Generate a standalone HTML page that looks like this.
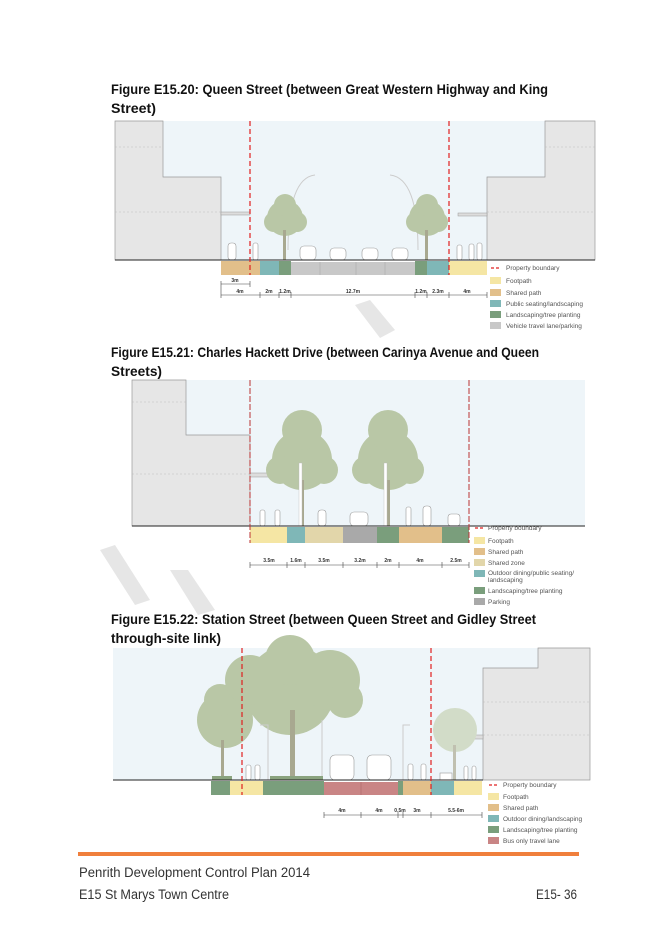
<!DOCTYPE html>
<html><head><meta charset="utf-8"><style>body{margin:0;background:#fff}svg{display:block}</style></head><body>
<svg width="656" height="928" viewBox="0 0 656 928" xmlns="http://www.w3.org/2000/svg" font-family="Liberation Sans, sans-serif">
<rect width="656" height="928" fill="#fff"/>
<!-- watermark -->
<g fill="#e6e6e6"><polygon points="355,305 370,300 395,330 380,338"/><polygon points="100,550 115,545 150,600 135,605"/><polygon points="170,570 188,570 215,610 198,615"/></g>
<!-- Titles -->
<g font-weight="bold" font-size="14" fill="#111">
<text x="111" y="94" textLength="437" lengthAdjust="spacingAndGlyphs">Figure E15.20: Queen Street (between Great Western Highway and King</text>
<text x="111" y="113" textLength="45" lengthAdjust="spacingAndGlyphs">Street)</text>
<text x="111" y="357" textLength="428" lengthAdjust="spacingAndGlyphs">Figure E15.21: Charles Hackett Drive (between Carinya Avenue and Queen</text>
<text x="111" y="376" textLength="51" lengthAdjust="spacingAndGlyphs">Streets)</text>
<text x="111" y="624" textLength="425" lengthAdjust="spacingAndGlyphs">Figure E15.22: Station Street (between Queen Street and Gidley Street</text>
<text x="111" y="643" textLength="110" lengthAdjust="spacingAndGlyphs">through-site link)</text>
</g>

<!-- FIG 1 -->
<rect x="115" y="121" width="480" height="139" fill="#eef5f9"/>
<g fill="#e6e6e6" stroke="#999" stroke-width="0.7">
<path d="M115 121 H163 V177 H221 V260 H115 Z"/>
<path d="M595 121 H545 V177 H487 V260 H595 Z"/>
</g>
<g stroke="#bbb" stroke-dasharray="2,2" stroke-width="0.6"><line x1="115" y1="147" x2="163" y2="147"/><line x1="115" y1="212" x2="221" y2="212"/><line x1="545" y1="147" x2="595" y2="147"/><line x1="487" y1="212" x2="595" y2="212"/></g>
<rect x="221" y="212" width="29" height="3" fill="#ddd" stroke="#999" stroke-width="0.5"/>
<rect x="458" y="213" width="29" height="3" fill="#ddd" stroke="#999" stroke-width="0.5"/>
<g fill="none" stroke="#ccc" stroke-width="1"><path d="M288 250 Q288 178 315 175"/><path d="M418 250 Q418 178 390 175"/></g>
<g fill="#b9c7a6"><circle cx="285" cy="218" r="18"/><circle cx="274" cy="222" r="10"/><circle cx="297" cy="222" r="10"/><circle cx="285" cy="205" r="11"/><circle cx="427" cy="218" r="18"/><circle cx="416" cy="222" r="10"/><circle cx="438" cy="222" r="10"/><circle cx="427" cy="205" r="11"/></g>
<rect x="283" y="230" width="3" height="30" fill="#a8a890"/><rect x="425" y="230" width="3" height="30" fill="#a8a890"/>
<g fill="#fff" stroke="#999" stroke-width="0.6"><rect x="300" y="246" width="16" height="14" rx="4"/><rect x="330" y="248" width="16" height="12" rx="4"/><rect x="362" y="248" width="16" height="12" rx="4"/><rect x="392" y="248" width="16" height="12" rx="4"/>
<rect x="228" y="243" width="8" height="17" rx="3"/><rect x="253" y="243" width="5" height="17" rx="2"/><rect x="457" y="245" width="5" height="15" rx="2"/><rect x="469" y="244" width="5" height="16" rx="2"/><rect x="477" y="243" width="5" height="17" rx="2"/></g>
<line x1="115" y1="260" x2="595" y2="260" stroke="#222" stroke-width="1"/>
<rect x="221" y="261" width="39" height="14" fill="#e2bf8a"/>
<rect x="260" y="261" width="19" height="14" fill="#7fb7b7"/>
<rect x="279" y="261" width="12" height="14" fill="#7a9e7c"/>
<rect x="291" y="262" width="124" height="13" fill="#c8c8c8"/>
<g stroke="#aaa" stroke-width="0.6"><line x1="320" y1="262" x2="320" y2="275"/><line x1="356" y1="262" x2="356" y2="275"/><line x1="385" y1="262" x2="385" y2="275"/></g>
<rect x="415" y="261" width="12" height="14" fill="#7a9e7c"/>
<rect x="427" y="261" width="22" height="14" fill="#7fb7b7"/>
<rect x="449" y="261" width="38" height="14" fill="#f5e6a4"/>
<g stroke="#e02020" stroke-width="1.2" stroke-dasharray="5,3"><line x1="250" y1="121" x2="250" y2="275"/><line x1="449" y1="121" x2="449" y2="275"/></g>
<g stroke="#444" stroke-width="0.6"><line x1="221" y1="284" x2="250" y2="284"/><line x1="221" y1="295" x2="487" y2="295"/>
<line x1="221" y1="281" x2="221" y2="298"/><line x1="250" y1="281" x2="250" y2="287"/><line x1="260" y1="292" x2="260" y2="298"/><line x1="279" y1="292" x2="279" y2="298"/><line x1="291" y1="292" x2="291" y2="298"/><line x1="415" y1="292" x2="415" y2="298"/><line x1="427" y1="292" x2="427" y2="298"/><line x1="449" y1="292" x2="449" y2="298"/><line x1="487" y1="292" x2="487" y2="298"/></g>
<g font-size="5" fill="#333" text-anchor="middle" font-weight="bold"><text x="235" y="282">3m</text><text x="240" y="293">4m</text><text x="269" y="293">2m</text><text x="285" y="293">1.2m</text><text x="353" y="293">12.7m</text><text x="421" y="293">1.2m</text><text x="438" y="293">2.3m</text><text x="467" y="293">4m</text></g>
<g font-size="6.5" fill="#555">
<line x1="491" y1="268" x2="501" y2="268" stroke="#e02020" stroke-width="1.3" stroke-dasharray="3,2"/><text x="506" y="270">Property boundary</text>
<rect x="490" y="277" width="11" height="7" fill="#f5e6a4"/><text x="506" y="283">Footpath</text>
<rect x="490" y="289" width="11" height="7" fill="#e2bf8a"/><text x="506" y="295">Shared path</text>
<rect x="490" y="300" width="11" height="7" fill="#7fb7b7"/><text x="506" y="306">Public seating/landscaping</text>
<rect x="490" y="311" width="11" height="7" fill="#7a9e7c"/><text x="506" y="317">Landscaping/tree planting</text>
<rect x="490" y="322" width="11" height="7" fill="#c8c8c8"/><text x="506" y="328">Vehicle travel lane/parking</text>
</g>

<!-- FIG 2 -->
<rect x="132" y="380" width="453" height="146" fill="#eef5f9"/>
<g fill="#e6e6e6" stroke="#999" stroke-width="0.7"><path d="M132 380 H186 V435 H250 V526 H132 Z"/></g>
<g stroke="#bbb" stroke-dasharray="2,2" stroke-width="0.6"><line x1="132" y1="402" x2="186" y2="402"/><line x1="132" y1="474" x2="250" y2="474"/></g>
<rect x="250" y="473" width="33" height="4" fill="#ddd" stroke="#999" stroke-width="0.5"/>
<g fill="#b9c7a6"><circle cx="302" cy="460" r="30"/><circle cx="302" cy="430" r="20"/><circle cx="280" cy="470" r="14"/><circle cx="324" cy="470" r="14"/>
<circle cx="388" cy="460" r="30"/><circle cx="388" cy="430" r="20"/><circle cx="366" cy="470" r="14"/><circle cx="410" cy="470" r="14"/></g>
<rect x="300" y="480" width="4" height="46" fill="#a8a890"/><rect x="386" y="480" width="4" height="46" fill="#a8a890"/>
<rect x="299" y="463" width="3" height="63" fill="#fff" stroke="#bbb" stroke-width="0.4"/><rect x="384" y="463" width="3" height="63" fill="#fff" stroke="#bbb" stroke-width="0.4"/>
<g fill="#fff" stroke="#999" stroke-width="0.6"><rect x="350" y="512" width="18" height="14" rx="4"/><rect x="318" y="510" width="8" height="16" rx="3"/><rect x="260" y="510" width="5" height="16" rx="2"/><rect x="275" y="510" width="5" height="16" rx="2"/><rect x="406" y="507" width="5" height="19" rx="2"/><rect x="423" y="506" width="8" height="20" rx="3"/><rect x="448" y="514" width="12" height="12" rx="3"/></g>
<line x1="132" y1="526" x2="585" y2="526" stroke="#222" stroke-width="1"/>
<rect x="250" y="527" width="37" height="16" fill="#f5e6a4"/>
<rect x="287" y="527" width="18" height="16" fill="#7fb7b7"/>
<rect x="305" y="527" width="38" height="16" fill="#e2d6aa"/>
<rect x="343" y="527" width="34" height="16" fill="#a9a9a9"/>
<rect x="377" y="527" width="22" height="16" fill="#7a9e7c"/>
<rect x="399" y="527" width="43" height="16" fill="#e2bf8a"/>
<rect x="442" y="527" width="27" height="16" fill="#7a9e7c"/>
<g stroke="#b33" stroke-width="1" stroke-dasharray="6,2"><line x1="250" y1="380" x2="250" y2="543"/><line x1="469" y1="380" x2="469" y2="543"/></g>
<g stroke="#444" stroke-width="0.6"><line x1="250" y1="565" x2="469" y2="565"/>
<line x1="250" y1="562" x2="250" y2="568"/><line x1="287" y1="562" x2="287" y2="568"/><line x1="305" y1="562" x2="305" y2="568"/><line x1="343" y1="562" x2="343" y2="568"/><line x1="377" y1="562" x2="377" y2="568"/><line x1="399" y1="562" x2="399" y2="568"/><line x1="442" y1="562" x2="442" y2="568"/><line x1="469" y1="562" x2="469" y2="568"/></g>
<g font-size="5" fill="#333" text-anchor="middle" font-weight="bold"><text x="269" y="562">3.5m</text><text x="296" y="562">1.6m</text><text x="324" y="562">3.5m</text><text x="360" y="562">3.2m</text><text x="388" y="562">2m</text><text x="420" y="562">4m</text><text x="456" y="562">2.5m</text></g>
<g font-size="6.5" fill="#555">
<line x1="475" y1="528" x2="485" y2="528" stroke="#e02020" stroke-width="1.3" stroke-dasharray="3,2"/><text x="488" y="530">Property boundary</text>
<rect x="474" y="537" width="11" height="7" fill="#f5e6a4"/><text x="488" y="543">Footpath</text>
<rect x="474" y="548" width="11" height="7" fill="#e2bf8a"/><text x="488" y="554">Shared path</text>
<rect x="474" y="559" width="11" height="7" fill="#e2d6aa"/><text x="488" y="565">Shared zone</text>
<rect x="474" y="570" width="11" height="7" fill="#7fb7b7"/><text x="488" y="575">Outdoor dining/public seating/</text><text x="488" y="582">landscaping</text>
<rect x="474" y="587" width="11" height="7" fill="#7a9e7c"/><text x="488" y="593">Landscaping/tree planting</text>
<rect x="474" y="598" width="11" height="7" fill="#a9a9a9"/><text x="488" y="604">Parking</text>
</g>

<!-- FIG 3 -->
<rect x="113" y="648" width="477" height="132" fill="#eef5f9"/>
<g fill="#e6e6e6" stroke="#999" stroke-width="0.7"><path d="M590 648 H538 V668 H483 V780 H590 Z"/></g>
<g stroke="#bbb" stroke-dasharray="2,2" stroke-width="0.6"><line x1="483" y1="702" x2="590" y2="702"/><line x1="483" y1="735" x2="590" y2="735"/></g>
<rect x="454" y="735" width="29" height="4" fill="#ddd" stroke="#999" stroke-width="0.5"/>
<g fill="#b9c7a6"><circle cx="225" cy="720" r="28"/><circle cx="220" cy="700" r="16"/>
<circle cx="290" cy="690" r="45"/><circle cx="250" cy="680" r="25"/><circle cx="330" cy="680" r="30"/><circle cx="290" cy="660" r="25"/><circle cx="345" cy="700" r="18"/></g>
<g fill="#d2dcc8"><circle cx="455" cy="730" r="22"/></g>
<rect x="221" y="740" width="3" height="40" fill="#a8a890"/><rect x="290" y="710" width="5" height="70" fill="#a8a890"/><rect x="453" y="745" width="3" height="35" fill="#c0c0b0"/>
<g fill="none" stroke="#ccc" stroke-width="1"><path d="M268 780 V725 H260"/><path d="M403 780 V725 H410"/><path d="M322 780 V720"/></g>
<g fill="#fff" stroke="#999" stroke-width="0.6"><rect x="330" y="755" width="24" height="25" rx="5"/><rect x="367" y="755" width="24" height="25" rx="5"/><rect x="246" y="765" width="5" height="15" rx="2"/><rect x="255" y="765" width="5" height="15" rx="2"/><rect x="408" y="764" width="5" height="16" rx="2"/><rect x="421" y="764" width="5" height="16" rx="2"/><rect x="440" y="773" width="12" height="7"/><rect x="464" y="766" width="4" height="14" rx="2"/><rect x="472" y="766" width="4" height="14" rx="2"/></g>
<g fill="#8aa37f"><rect x="212" y="776" width="20" height="4"/><rect x="270" y="776" width="53" height="4"/></g>
<line x1="113" y1="780" x2="483" y2="780" stroke="#222" stroke-width="1"/>
<rect x="211" y="781" width="19" height="14" fill="#7a9e7c"/>
<rect x="230" y="781" width="33" height="14" fill="#f5e6a4"/>
<rect x="263" y="781" width="61" height="14" fill="#7a9e7c"/>
<rect x="324" y="782" width="74" height="13" fill="#c98585"/>
<line x1="361" y1="782" x2="361" y2="795" stroke="#a66" stroke-width="0.6"/>
<rect x="398" y="781" width="5" height="14" fill="#7a9e7c"/>
<rect x="403" y="781" width="28" height="14" fill="#e2bf8a"/>
<rect x="431" y="781" width="23" height="14" fill="#7fb7b7"/>
<rect x="454" y="781" width="28" height="14" fill="#f5e6a4"/>
<g stroke="#e02020" stroke-width="1.2" stroke-dasharray="5,3"><line x1="242" y1="648" x2="242" y2="795"/><line x1="431" y1="648" x2="431" y2="795"/></g>
<g stroke="#444" stroke-width="0.6"><line x1="324" y1="815" x2="482" y2="815"/>
<line x1="324" y1="812" x2="324" y2="818"/><line x1="361" y1="812" x2="361" y2="818"/><line x1="398" y1="812" x2="398" y2="818"/><line x1="403" y1="812" x2="403" y2="818"/><line x1="431" y1="812" x2="431" y2="818"/><line x1="482" y1="812" x2="482" y2="818"/></g>
<g font-size="5" fill="#333" text-anchor="middle" font-weight="bold"><text x="342" y="812">4m</text><text x="379" y="812">4m</text><text x="400" y="812">0.5m</text><text x="417" y="812">3m</text><text x="456" y="812">5.5-6m</text></g>
<g font-size="6.5" fill="#555">
<line x1="489" y1="785" x2="499" y2="785" stroke="#e02020" stroke-width="1.3" stroke-dasharray="3,2"/><text x="503" y="787">Property boundary</text>
<rect x="488" y="793" width="11" height="7" fill="#f5e6a4"/><text x="503" y="799">Footpath</text>
<rect x="488" y="804" width="11" height="7" fill="#e2bf8a"/><text x="503" y="810">Shared path</text>
<rect x="488" y="815" width="11" height="7" fill="#7fb7b7"/><text x="503" y="821">Outdoor dining/landscaping</text>
<rect x="488" y="826" width="11" height="7" fill="#7a9e7c"/><text x="503" y="832">Landscaping/tree planting</text>
<rect x="488" y="837" width="11" height="7" fill="#c98585"/><text x="503" y="843">Bus only travel lane</text>
</g>

<!-- Footer -->
<rect x="78" y="852" width="501" height="4" fill="#f07f3c"/>
<g font-size="13.5" fill="#333">
<text x="79" y="877" textLength="231" lengthAdjust="spacingAndGlyphs">Penrith Development Control Plan 2014</text>
<text x="79" y="899" textLength="150" lengthAdjust="spacingAndGlyphs">E15 St Marys Town Centre</text>
<text x="577" y="899" text-anchor="end" textLength="41" lengthAdjust="spacingAndGlyphs">E15- 36</text>
</g>
</svg>
</body></html>
